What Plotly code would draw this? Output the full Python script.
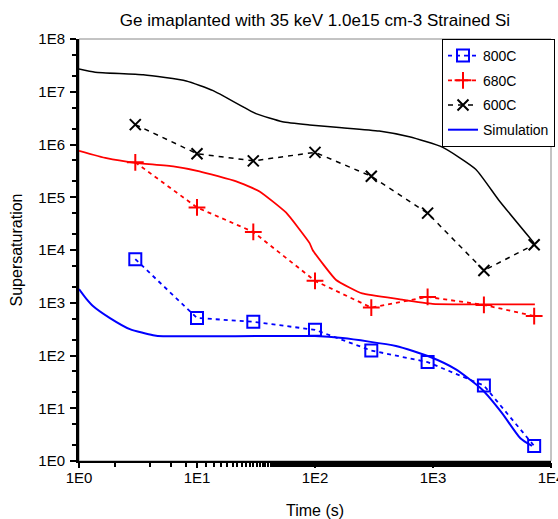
import plotly.graph_objects as go

# Experimental data
t_exp = [3, 10, 30, 100, 300, 900, 2700, 7200]
y_800 = [6700, 515, 435, 307, 124, 75, 27, 1.93]
y_680 = [4.6e5, 6.4e4, 2.2e4, 2600, 810, 1290, 910, 560]
y_600 = [2.38e6, 6.7e5, 4.9e5, 7.1e5, 2.5e5, 5.0e4, 4100, 1.26e4]

# Simulation curves
sim800_t = [1, 1.15, 1.32, 1.83, 2.7, 4.25, 5.16, 100, 171, 485, 927, 1550, 2620, 3860, 5500, 6900]
sim800_y = [1820, 1200, 860, 513, 316, 243, 232, 234, 214, 151, 95.5, 55, 22.4, 8.0, 2.7, 1.93]
sim680_t = [1, 1.71, 2.97, 6.3, 10.5, 21.5, 33.9, 57, 90, 95.5, 151, 251, 513, 990, 7300]
sim680_y = [7.6e5, 5.5e5, 4.5e5, 3.85e5, 3.1e5, 2.0e5, 1.29e5, 5.1e4, 1.35e4, 1.0e4, 2.7e3, 1.5e3, 1.17e3, 955, 933]
sim600_t = [1, 1.37, 3.5, 8.1, 13.7, 31.6, 53, 90, 160, 350, 630, 1200, 2300, 3600, 7200]
sim600_y = [2.7e7, 2.35e7, 2.1e7, 1.6e7, 1.05e7, 3.85e6, 2.7e6, 2.35e6, 2.1e6, 1.8e6, 1.4e6, 8.9e5, 3.4e5, 8.9e4, 1.35e4]

x_tickvals = [1, 10, 100, 1000, 10000]
x_ticktext = ["1E0", "1E1", "1E2", "1E3", "1E4"]
y_tickvals = [10 ** i for i in range(9)]
y_ticktext = ["1E%d" % i for i in range(9)]

FONT = "Liberation Sans, Arial, sans-serif"

fig = go.Figure()
fig.add_trace(go.Scatter(x=t_exp, y=y_800, name="800C", mode="lines+markers", legendgroup="a",
                         line=dict(color="#0000ff", width=1.8, dash="4px,4px"),
                         marker=dict(symbol="square-open", size=12, color="#0000ff",
                                     line=dict(width=2, color="#0000ff"))))
fig.add_trace(go.Scatter(x=t_exp, y=y_680, name="680C", mode="lines+markers", legendgroup="b",
                         line=dict(color="#ff0000", width=1.8, dash="4px,4px"),
                         marker=dict(symbol="cross-thin-open", size=12, color="#ff0000",
                                     line=dict(width=2, color="#ff0000"))))
fig.add_trace(go.Scatter(x=t_exp, y=y_600, name="600C", mode="lines+markers", legendgroup="c",
                         line=dict(color="#000000", width=1.5, dash="5px,5px"),
                         marker=dict(symbol="x-thin-open", size=11, color="#000000",
                                     line=dict(width=2, color="#000000"))))
fig.add_trace(go.Scatter(x=sim800_t, y=sim800_y, name="Simulation", mode="lines", legendgroup="d",
                         line=dict(color="#0000ff", width=2, shape="spline", smoothing=0.6)))
fig.add_trace(go.Scatter(x=sim680_t, y=sim680_y, name="Simulation 680", mode="lines",
                         showlegend=False,
                         line=dict(color="#ff0000", width=1.8, shape="spline", smoothing=0.4)))
fig.add_trace(go.Scatter(x=sim600_t, y=sim600_y, name="Simulation 600", mode="lines",
                         showlegend=False,
                         line=dict(color="#000000", width=1.5, shape="spline", smoothing=0.5)))

fig.update_layout(
    width=558, height=519,
    margin=dict(l=79, r=7, t=39, b=58, autoexpand=False),
    paper_bgcolor="white", plot_bgcolor="white",
    font=dict(family=FONT, size=14, color="black"),
    title=dict(text="Ge imaplanted with 35 keV 1.0e15 cm-3 Strained Si",
               xref="paper", x=0.5, xanchor="center",
               yref="container", y=1 - 20 / 519, yanchor="middle",
               font=dict(family=FONT, size=17, color="black")),
    legend=dict(xref="container", x=555 / 558, y=1.0, xanchor="right", yanchor="top",
                bgcolor="white", bordercolor="black", borderwidth=1,
                font=dict(family=FONT, size=14, color="black"),
                itemwidth=30, tracegroupgap=3.5, traceorder="grouped"),
    shapes=[dict(type="rect", xref="paper", yref="paper", x0=0, x1=1, y0=0, y1=1,
                 line=dict(color="#888888", width=1), layer="below")],
)
fig.update_xaxes(type="log", range=[0, 4], tickvals=x_tickvals, ticktext=x_ticktext,
                 automargin=False, ticklabeloverflow="allow",
                 showgrid=False, zeroline=False, showline=True, linecolor="black", linewidth=2,
                 ticks="outside", ticklen=5, tickwidth=2, tickcolor="black",
                 minor=dict(ticks="outside", ticklen=4, tickwidth=2, tickcolor="black",
                            showgrid=False),
                 tickfont=dict(size=15), ticklabelstandoff=-3,
                 title=dict(text="Time (s)", font=dict(size=16), standoff=20))
fig.update_yaxes(type="log", range=[0, 8], tickvals=y_tickvals, ticktext=y_ticktext,
                 automargin=False,
                 showgrid=False, zeroline=False, showline=True, linecolor="black", linewidth=3,
                 ticks="outside", ticklen=6, tickwidth=2, tickcolor="black",
                 minor=dict(ticks="outside", ticklen=4, tickwidth=2, tickcolor="black",
                            showgrid=False),
                 tickfont=dict(size=15), ticklabelstandoff=2,
                 title=dict(text="Supersaturation", font=dict(size=16), standoff=12))

fig.write_html("out.html", config={"displayModeBar": False},
               post_script="document.body.style.margin='0';document.body.style.padding='0';")
